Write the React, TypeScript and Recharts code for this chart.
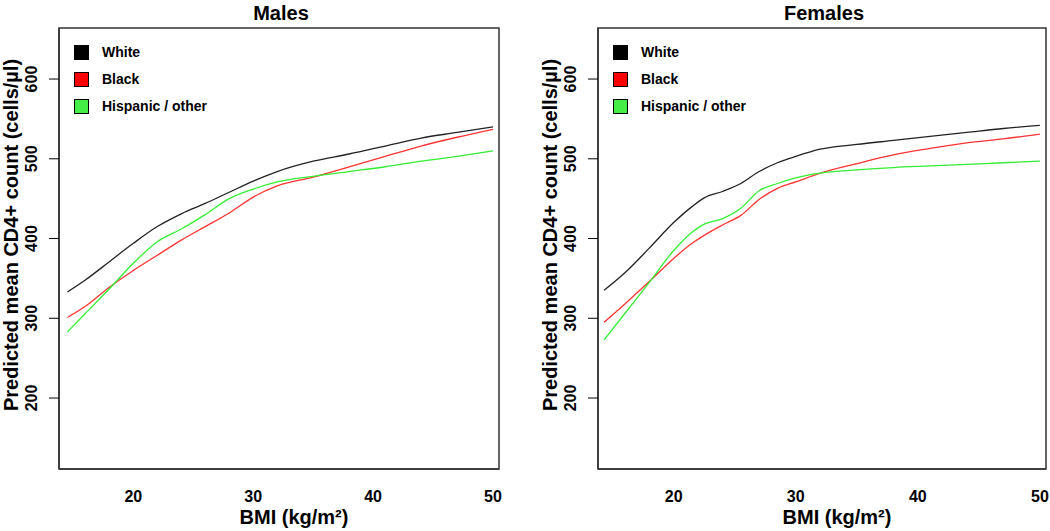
import React from "react";
import { LineChart, Line, XAxis, YAxis, Legend, ReferenceArea } from "recharts";

// ---- Data ----
const maleBmi = [14.5, 16, 18, 20, 22, 24, 26, 28, 30, 32, 35, 38, 41, 44, 47, 50];
const maleWhite = [333, 348, 371, 394, 415, 431, 444, 458, 472, 484, 497, 506, 516, 526, 533, 540];
const maleBlack = [301, 315, 339, 360, 379, 398, 415, 432, 452, 466, 477, 490, 503, 516, 527, 537];
const maleHispanic = [283, 306, 337, 369, 396, 412, 430, 450, 462, 471, 478, 484, 490, 497, 503, 510];

const femaleBmi = [14.3, 16, 18, 20, 21.5, 22.5, 24, 25.5, 27, 28.5, 30, 32, 35, 38, 41, 44, 47, 50];
const femaleWhite = [335, 357, 388, 420, 440, 451, 459, 469, 484, 495, 503, 512, 518, 523, 528, 533, 538, 542];
const femaleBlack = [295, 318, 346, 375, 394, 404, 417, 429, 449, 463, 471, 482, 494, 505, 513, 520, 525, 531];
const femaleHispanic = [273, 306, 345, 385, 408, 418, 425, 438, 460, 469, 476, 482, 486, 489, 491, 493, 495, 497];

const seriesNames = ["White", "Black", "Hispanic / other"];
const lineColors = ["#222222", "#ff3333", "#33ee33"];
const legendFills = ["#000000", "#ff0000", "#44ee44"];
const xTicks = [20, 30, 40, 50];
const yTicks = [200, 300, 400, 500, 600];
const xDomain = [13.8, 50.5];
const yDomain = [111, 664];

const FONT = "'Liberation Sans', Arial, Helvetica, sans-serif";

function buildTable(bmi: number[], w: number[], b: number[], h: number[]) {
  return bmi.map((x, i) => ({ bmi: x, white: w[i], black: b[i], hispanic: h[i] }));
}

const maleData = buildTable(maleBmi, maleWhite, maleBlack, maleHispanic);
const femaleData = buildTable(femaleBmi, femaleWhite, femaleBlack, femaleHispanic);

const YTick = (props: any) => {
  const { x, y, payload } = props;
  return (
    <text
      transform={`translate(${x - 10},${y}) rotate(-90)`}
      textAnchor="middle"
      fontFamily={FONT}
      fontWeight={700}
      fontSize={16}
      fill="#000"
    >
      {payload.value}
    </text>
  );
};

const XTick = (props: any) => {
  const { x, payload } = props;
  return (
    <text x={x} y={502} textAnchor="middle" fontFamily={FONT} fontWeight={700} fontSize={16} fill="#000">
      {payload.value}
    </text>
  );
};

const LegendContent = () => (
  <div style={{ fontFamily: FONT, fontWeight: 700, fontSize: 14, color: "#000" }}>
    {seriesNames.map((n, i) => (
      <div key={n} style={{ display: "flex", alignItems: "center", height: 15, marginBottom: 12 }}>
        <div
          style={{
            width: 13,
            height: 13,
            border: "1px solid #000",
            background: legendFills[i],
            marginRight: 13,
          }}
        />
        <span style={{ lineHeight: "15px", whiteSpace: "nowrap" }}>{n}</span>
      </div>
    ))}
  </div>
);

type PanelProps = { left: number; width: number; rightMargin: number; title: string; data: any[] };

const Panel = ({ left, width, rightMargin, title, data }: PanelProps) => {
  const plotLeft = 59;
  const plotRight = width - rightMargin;
  const cx = (plotLeft + plotRight) / 2;
  return (
    <div style={{ position: "absolute", left, top: 0, width, height: 531 }}>
      <LineChart width={width} height={531} data={data} margin={{ top: 28, right: rightMargin, bottom: 0, left: 0 }}>
        <XAxis
          dataKey="bmi"
          type="number"
          domain={xDomain}
          ticks={xTicks}
          allowDataOverflow
          tickLine={false}
          tick={<XTick />}
          height={62}
          axisLine={{ stroke: "#333", strokeWidth: 1.5 }}
        />
        <YAxis
          type="number"
          domain={yDomain}
          ticks={yTicks}
          allowDataOverflow
          width={59}
          tickSize={10}
          tickLine={{ stroke: "#000", strokeWidth: 1 }}
          tick={<YTick />}
          axisLine={{ stroke: "#333", strokeWidth: 1.5 }}
        />
        <ReferenceArea
          x1={xDomain[0]}
          x2={xDomain[1]}
          y1={yDomain[0]}
          y2={yDomain[1]}
          fill="none"
          fillOpacity={0}
          stroke="#333"
          strokeWidth={1.5}
          ifOverflow="visible"
        />
        <Legend
          layout="vertical"
          align="center"
          verticalAlign="middle"
          content={<LegendContent />}
          wrapperStyle={{ position: "absolute", left: plotLeft + 15, top: 45, width: "auto", height: "auto" }}
        />
        <Line dataKey="white" name={seriesNames[0]} type="monotone" stroke={lineColors[0]} strokeWidth={1.3} dot={false} isAnimationActive={false} />
        <Line dataKey="black" name={seriesNames[1]} type="monotone" stroke={lineColors[1]} strokeWidth={1.3} dot={false} isAnimationActive={false} />
        <Line dataKey="hispanic" name={seriesNames[2]} type="monotone" stroke={lineColors[2]} strokeWidth={1.3} dot={false} isAnimationActive={false} />
      </LineChart>
      <svg
        width={width}
        height={531}
        style={{ position: "absolute", left: 0, top: 0, pointerEvents: "none" }}
      >
        <text x={cx + 2} y={20} textAnchor="middle" fontFamily={FONT} fontWeight={700} fontSize={20} fill="#000">
          {title}
        </text>
        <text
          transform={`translate(18,235) rotate(-90)`}
          textAnchor="middle"
          fontFamily={FONT}
          fontWeight={700}
          fontSize={20}
          fill="#000"
        >
          Predicted mean CD4+ count (cells/µl)
        </text>
        <text x={cx + 15} y={524} textAnchor="middle" fontFamily={FONT} fontWeight={700} fontSize={20} fill="#000">
          BMI (kg/m²)
        </text>
      </svg>
    </div>
  );
};

export default function App() {
  return (
    <div style={{ position: "absolute", left: 0, top: 0, width: 1050, height: 531, background: "#fff" }}>
      <Panel left={0} width={530} rightMargin={31} title="Males" data={maleData} />
      <Panel left={539} width={511} rightMargin={4} title="Females" data={femaleData} />
    </div>
  );
}
